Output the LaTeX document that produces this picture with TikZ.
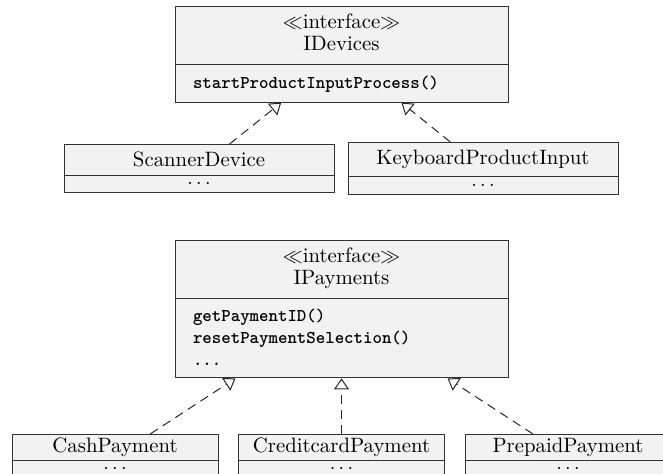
\documentclass[tikz,border=0pt]{standalone}
\usetikzlibrary{shapes.multipart,arrows.meta}
\begin{document}
\begin{tikzpicture}[x=0.5pt,y=-0.5pt,
  every node/.style={font=\fontsize{10.4}{11}\selectfont},
  umlbox/.style={rectangle split, rectangle split parts=2, draw=black!80, line width=0.5pt,
    fill=black!5, inner xsep=3.3pt, inner ysep=3.6pt, text width=#1, align=center},
  umliface/.style={umlbox=159.9pt, align=left},
  realize/.style={draw=black!85, line width=0.5pt, dash pattern=on 4.5pt off 3pt,
    -{Triangle[open,length=5.5pt,width=7.5pt]}},
]
\newcommand\ind{\hspace*{5.7pt}}
\newcommand\mfont{\fontsize{9}{11}\selectfont\ttfamily\bfseries}
\useasboundingbox (0,0) rectangle (663,474);
\clip (0,0) rectangle (663,474);

\node[umliface, anchor=north] (idev) at (341.5,6)
  {\centering\rule{0pt}{7.4pt}$\ll$interface$\gg$\\IDevices\rule[-3.15pt]{0pt}{3.15pt}\par
   \nodepart{two}\mfont\ind\rule[-2.9pt]{0pt}{10.9pt}startProductInputProcess()};
\node[umlbox=128.4pt, anchor=north] (scan) at (199,144) {ScannerDevice\nodepart{two}$\ldots$};
\node[umlbox=128.4pt, anchor=north] (kbd) at (483,142) {KeyboardProductInput\nodepart{two}$\ldots$};

\node[umliface, anchor=north] (ipay) at (341.5,240)
  {\centering\rule{0pt}{7.4pt}$\ll$interface$\gg$\\IPayments\rule[-3.15pt]{0pt}{3.15pt}\par
   \nodepart{two}\mfont\ind\rule{0pt}{7.6pt}getPaymentID()\\\ind resetPaymentSelection()\\\ind ...\rule[-2.15pt]{0pt}{2.15pt}};

\node[umlbox=96.4pt, inner ysep=1.5pt, anchor=north] (cash) at (115,434)
  {CashPayment\nodepart{two}$\ldots$\rule[-3pt]{0pt}{6pt}};
\node[umlbox=96.4pt, inner ysep=1.5pt, anchor=north] (credit) at (341.5,434)
  {CreditcardPayment\nodepart{two}$\ldots$\rule[-3pt]{0pt}{6pt}};
\node[umlbox=96.4pt, inner ysep=1.5pt, anchor=north] (prepaid) at (568,434)
  {PrepaidPayment\nodepart{two}$\ldots$\rule[-3pt]{0pt}{6pt}};

\draw[realize] (scan) -- (idev);
\draw[realize] (kbd) -- (idev);
\draw[realize] (cash) -- (ipay);
\draw[realize] (credit) -- (ipay);
\draw[realize] (prepaid) -- (ipay);
\end{tikzpicture}
\end{document}
